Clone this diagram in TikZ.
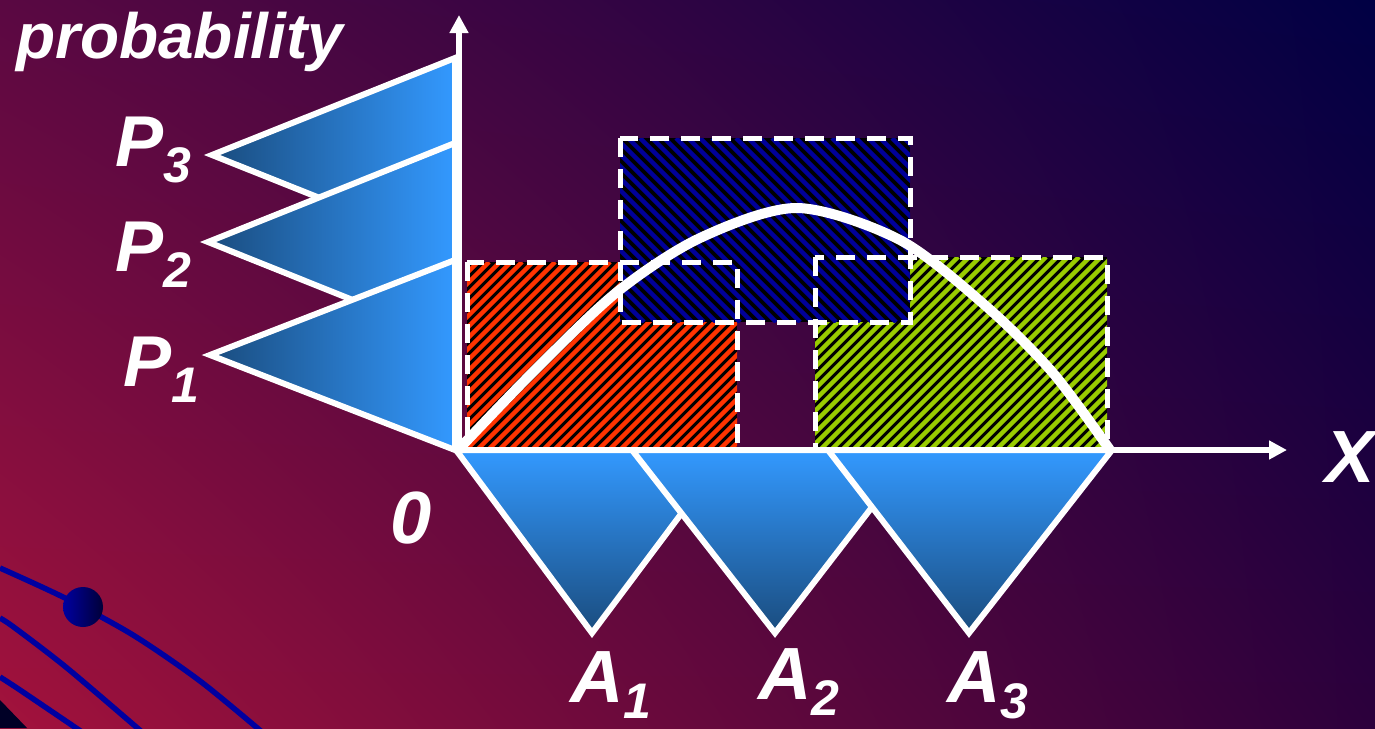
\documentclass[tikz,border=0pt]{standalone}
\usepackage{fontspec}
\setmainfont{Liberation Sans}
\usetikzlibrary{arrows.meta,shadings}

\definecolor{bgTL}{HTML}{5A0842}
\definecolor{bgTR}{HTML}{000044}
\definecolor{bgBL}{HTML}{A3123C}
\definecolor{bgBR}{HTML}{2C003C}
\definecolor{triLight}{HTML}{3399FF}
\definecolor{triDark}{HTML}{1A4C7E}
\definecolor{hatchRed}{HTML}{FF3300}
\definecolor{hatchGreen}{HTML}{99CC00}
\definecolor{hatchBlue}{HTML}{000099}
\definecolor{wireBlue}{HTML}{0000A0}

% letter with a dropped index
\newcommand{\sublab}[2]{#1\lower16pt\hbox{\fontsize{50}{50}\selectfont #2}}

\begin{document}
\begin{tikzpicture}[x=1pt, y=-1pt,
    axis/.style={white, line width=6pt, -{Triangle[length=18pt, width=18pt]}},
    probtri/.style={draw=white, line width=6pt, left color=triDark, right color=triLight},
    areatri/.style={draw=white, line width=6pt, top color=triLight, bottom color=triDark},
    dashbox/.style={draw=white, line width=5pt, dash pattern=on 19pt off 12pt},
    stripe/.style={line width=4.5pt},
    wire/.style={wireBlue, line width=5.5pt},
    biglabel/.style={white, font=\fontsize{74}{74}\selectfont\bfseries\itshape, inner sep=0pt},
    plabel/.style={white, font=\fontsize{72}{72}\selectfont\bfseries\itshape, inner sep=0pt},
    ylabel/.style={white, font=\fontsize{64}{64}\selectfont\bfseries\itshape, inner sep=0pt},
]
\useasboundingbox (0,0) rectangle (1375,728);
\clip (0,0) rectangle (1375,728);

% background
\shade[upper left=bgTL, upper right=bgTR, lower left=bgBL, lower right=bgBR]
    (0,0) rectangle (1375,728);

% corner ornament
\fill[black!85!blue] (0,700) -- (27,728) -- (0,728) -- cycle;
\draw[wire] plot[smooth] coordinates {(0,568) (65,598) (133,635) (200,681) (262,732)};
\draw[wire] plot[smooth] coordinates {(0,618) (15,628) (67,668) (142,732)};
\draw[wire] plot[smooth] coordinates {(0,677) (20,690) (82,732)};
\shade[left color=wireBlue, right color=wireBlue!35!black] (83,607) circle[radius=20];

% hatched areas
\begin{scope}
  \clip (467,262) rectangle (737,450);
  \fill[black] (467,262) rectangle (737,450);
  \foreach \s in {279,290,...,737}
    \draw[stripe, hatchRed] (\s,450) -- ++(188,-188);
\end{scope}
\begin{scope}
  \clip (815,257) rectangle (1107,450);
  \fill[black] (815,257) rectangle (1107,450);
  \foreach \s in {622,633,...,1107}
    \draw[stripe, hatchGreen] (\s,450) -- ++(193,-193);
\end{scope}
\begin{scope}
  \clip (620,138) rectangle (910,322);
  \fill[black] (620,138) rectangle (910,322);
  \foreach \s in {436,448,...,910}
    \draw[stripe, hatchBlue] (\s,138) -- ++(184,184);
\end{scope}
\draw[dashbox] (467,262) rectangle (737,450);
\draw[dashbox] (815,257) rectangle (1107,450);
\draw[dashbox] (620,138) rectangle (910,322);

% density curve
\draw[white, line width=10pt] plot[smooth] coordinates
    {(458,450) (533,372) (617,292) (700,238) (797,208) (900,240) (987,307) (1053,373) (1110,450)};

% probability triangles
\shade[probtri] (455,58) -- (212,155) -- (455,252) -- cycle;
\shade[probtri] (455,143) -- (208,242) -- (455,341) -- cycle;
\shade[probtri] (455,260) -- (210,355) -- (455,450) -- cycle;

% area triangles
\shade[areatri] (456,450) -- (729,450) -- (592,633) -- cycle;
\shade[areatri] (632,450) -- (916,450) -- (775,633) -- cycle;
\shade[areatri] (828,450) -- (1112,450) -- (969,633) -- cycle;

% axes
\draw[axis] (455,450) -- (1287,450);
\draw[axis] (459,452) -- (459,15);

% labels
\node[ylabel, anchor=base west] (probLabel) at (16,58) {probability};
\node[plabel, anchor=base west] (p3) at (115,166) {\sublab{P}{3}};
\node[plabel, anchor=base west] (p2) at (115,271) {\sublab{P}{2}};
\node[plabel, anchor=base west] (p1) at (123,386) {\sublab{P}{1}};
\node[biglabel, anchor=base west] (a1) at (570,702) {\sublab{A}{1}};
\node[biglabel, anchor=base west] (a2) at (758,699) {\sublab{A}{2}};
\node[biglabel, anchor=base west] (a3) at (947,702) {\sublab{A}{3}};
\node[biglabel, anchor=base west] (xLabel) at (1325,482) {X};
\node[biglabel, anchor=base west] (zero) at (390,543) {0};
\end{tikzpicture}
\end{document}
